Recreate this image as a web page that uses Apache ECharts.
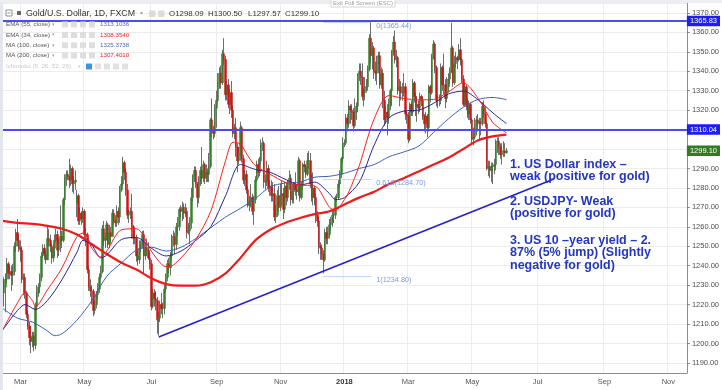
<!DOCTYPE html>
<html><head><meta charset="utf-8">
<script src="https://cdn.jsdelivr.net/npm/echarts@6/dist/echarts.min.js"></script>
<style>html,body{margin:0;padding:0;background:#fff}#c{width:722px;height:390px}</style>
</head><body><div id="c"></div>
<script>
// ---------- DATA ----------
const startDate = '2017-02-13';   // first trading day shown
const categoryCount = 461;        // weekdays on the axis (includes empty future)
const monthNames = ['Jan','Feb','Mar','Apr','May','Jun','Jul','Aug','Sep','Oct','Nov','Dec'];

// daily candles [open, close, low, high], one per weekday from startDate
const candles = [
// Feb 2017
[1234,1226,1224,1236],[1226,1229,1219,1233],[1229,1233,1216,1236],[1233,1241,1231,1244],[1241,1236,1233,1242],
[1236,1237,1233,1240],[1237,1235,1227,1240],[1235,1237,1230,1241],[1237,1250,1235,1252],[1250,1257,1247,1259],
[1257,1253,1250,1264],[1253,1249,1247,1256],
// Mar
[1249,1248,1242,1253],[1248,1233,1231,1250],[1233,1234,1225,1236],
[1234,1226,1223,1236],[1226,1215,1213,1227],[1215,1209,1207,1217],[1209,1203,1199,1211],[1203,1201,1195,1209],
[1201,1204,1198,1206],[1204,1199,1196,1206],[1199,1219,1197,1221],[1219,1226,1217,1230],[1226,1229,1224,1231],
[1229,1234,1226,1236],[1234,1245,1232,1247],[1245,1249,1244,1251],[1249,1246,1243,1251],[1246,1243,1241,1248],
[1243,1254,1243,1261],[1254,1253,1250,1259],[1253,1250,1247,1256],[1250,1244,1241,1251],[1244,1249,1242,1251],
// Apr
[1249,1253,1245,1256],[1253,1256,1252,1259],[1256,1248,1244,1258],[1248,1252,1245,1254],[1252,1255,1247,1271],
[1255,1253,1249,1258],[1253,1274,1252,1275],[1274,1285,1271,1287],[1285,1287,1281,1289],[1287,1286,1284,1289],
[1286,1284,1280,1295],[1284,1290,1281,1292],[1290,1282,1278,1291],[1282,1283,1277,1286],[1283,1284,1279,1289],
[1272,1276,1265,1279],[1276,1263,1261,1277],[1263,1267,1261,1270],[1267,1264,1261,1268],[1264,1268,1262,1270],
// May
[1268,1256,1254,1269],[1256,1256,1250,1259],[1256,1238,1236,1257],[1238,1229,1227,1240],[1229,1227,1224,1233],
[1227,1227,1220,1230],[1227,1217,1214,1228],[1217,1220,1215,1222],[1220,1225,1218,1227],[1225,1228,1223,1231],
[1228,1234,1226,1236],[1234,1237,1233,1240],[1237,1259,1236,1261],[1259,1253,1250,1263],[1253,1254,1249,1257],
[1254,1261,1253,1263],[1261,1251,1249,1262],[1251,1257,1249,1261],[1257,1255,1252,1260],[1255,1267,1255,1269],
[1267,1263,1261,1269],[1263,1262,1260,1266],[1262,1268,1260,1271],
// Jun
[1268,1265,1261,1270],[1265,1279,1262,1281],
[1279,1282,1278,1286],[1282,1293,1281,1296],[1293,1288,1284,1294],[1288,1279,1276,1290],[1279,1266,1264,1282],
[1266,1267,1262,1269],[1267,1268,1264,1270],[1268,1260,1254,1277],[1260,1254,1251,1261],[1254,1254,1251,1258],
[1254,1245,1242,1256],[1245,1243,1240,1248],[1243,1249,1241,1253],[1249,1251,1247,1253],[1251,1256,1249,1258],
[1256,1245,1236,1258],[1245,1249,1243,1252],[1249,1248,1245,1254],[1248,1244,1243,1252],[1244,1241,1238,1247],
// Jul
[1241,1219,1217,1243],[1219,1226,1218,1228],[1226,1223,1219,1228],[1223,1222,1217,1227],[1222,1212,1205,1224],
[1212,1213,1204,1216],[1213,1220,1211,1222],[1220,1218,1215,1226],[1218,1218,1213,1221],[1218,1228,1215,1230],
[1228,1234,1226,1236],[1234,1241,1232,1243],[1241,1239,1236,1244],[1239,1245,1235,1247],[1245,1255,1243,1256],
[1255,1255,1250,1258],[1255,1251,1246,1257],[1251,1260,1248,1262],[1260,1260,1255,1265],[1260,1269,1258,1270],
[1269,1268,1265,1271],
// Aug
[1268,1270,1263,1273],[1270,1267,1264,1272],[1267,1268,1265,1272],[1268,1257,1254,1270],
[1257,1258,1256,1262],[1258,1262,1251,1265],[1262,1275,1259,1280],[1275,1286,1273,1287],[1286,1289,1283,1291],
[1289,1282,1280,1291],[1282,1275,1270,1283],[1275,1283,1272,1286],[1283,1289,1281,1291],[1289,1285,1282,1301],
[1285,1292,1283,1294],[1292,1285,1282,1293],[1285,1288,1283,1292],[1288,1287,1283,1290],[1287,1291,1283,1298],
[1291,1315,1290,1316],[1315,1309,1306,1326],[1309,1308,1305,1312],[1308,1321,1306,1323],
// Sep
[1321,1325,1311,1330],
[1325,1334,1324,1339],[1334,1339,1331,1342],[1339,1334,1331,1343],[1334,1349,1333,1351],[1349,1346,1343,1357],
[1346,1328,1325,1348],[1328,1333,1325,1335],[1333,1323,1321,1336],[1323,1329,1318,1331],[1329,1320,1316,1335],
[1320,1308,1306,1322],[1308,1311,1305,1313],[1311,1301,1296,1316],[1301,1294,1288,1303],[1294,1297,1292,1301],
[1297,1311,1294,1314],[1311,1295,1293,1312],[1295,1284,1282,1297],[1284,1287,1281,1289],[1287,1279,1277,1289],
// Oct
[1279,1271,1270,1281],[1271,1273,1268,1276],[1273,1275,1270,1282],[1275,1268,1266,1277],[1268,1274,1261,1276],
[1274,1284,1272,1286],[1284,1292,1283,1294],[1292,1288,1285,1295],[1288,1294,1286,1296],[1294,1303,1292,1305],
[1303,1303,1299,1306],[1303,1283,1280,1304],[1283,1283,1279,1287],[1283,1290,1281,1294],[1290,1280,1278,1292],
[1280,1281,1276,1284],[1281,1276,1273,1284],[1276,1277,1273,1283],[1277,1265,1263,1282],[1265,1266,1262,1271],
[1266,1276,1265,1279],[1276,1270,1268,1281],
// Nov
[1270,1276,1268,1282],[1276,1277,1271,1284],[1277,1269,1264,1280],
[1269,1281,1267,1283],[1281,1275,1271,1283],[1275,1282,1273,1284],[1282,1285,1279,1289],[1285,1274,1271,1287],
[1274,1278,1272,1282],[1278,1282,1272,1283],[1282,1279,1276,1288],[1279,1278,1274,1282],[1278,1294,1276,1296],
[1294,1275,1273,1295],[1275,1281,1274,1283],[1281,1292,1279,1293],[1292,1291,1288,1294],[1291,1287,1285,1292],
[1287,1294,1286,1298],[1294,1294,1290,1299],[1294,1282,1280,1298],[1282,1275,1273,1287],
// Dec
[1275,1280,1271,1288],
[1280,1275,1271,1281],[1275,1266,1262,1277],[1266,1263,1260,1268],[1263,1250,1246,1265],[1250,1249,1243,1252],
[1249,1246,1243,1251],[1246,1243,1236,1248],[1243,1257,1242,1259],[1257,1254,1251,1260],[1254,1256,1251,1260],
[1256,1261,1254,1264],[1261,1262,1258,1265],[1262,1266,1260,1268],[1266,1266,1262,1269],[1266,1275,1264,1276],
[1275,1275,1273,1277],[1275,1282,1274,1284],[1282,1287,1280,1289],[1287,1295,1285,1296],[1295,1303,1293,1306],
// Jan 2018
[1303,1303,1301,1305],[1303,1316,1302,1318],[1316,1313,1309,1318],[1313,1322,1311,1325],[1322,1320,1313,1323],
[1320,1319,1315,1323],[1319,1312,1309,1321],[1312,1319,1311,1326],[1319,1322,1315,1324],[1322,1338,1319,1339],
[1338,1340,1335,1344],[1340,1337,1333,1344],[1337,1327,1325,1344],[1327,1329,1322,1331],[1329,1332,1325,1337],
[1332,1332,1329,1336],[1332,1341,1330,1343],[1341,1357,1340,1359],[1357,1348,1344,1366],[1348,1352,1341,1355],
[1352,1340,1336,1353],[1340,1339,1335,1345],[1339,1344,1333,1348],
// Feb
[1344,1348,1339,1350],[1348,1333,1331,1350],
[1333,1339,1331,1342],[1339,1325,1321,1341],[1325,1315,1312,1330],[1315,1319,1313,1322],[1319,1316,1307,1323],
[1316,1323,1313,1326],[1323,1330,1320,1331],[1330,1350,1322,1351],[1350,1355,1348,1358],[1355,1346,1344,1361],
[1346,1347,1342,1351],[1347,1330,1328,1348],[1330,1332,1322,1336],[1332,1329,1325,1335],[1329,1329,1325,1334],
[1329,1332,1327,1339],[1332,1318,1315,1334],[1318,1317,1313,1320],
// Mar
[1317,1305,1303,1319],[1305,1323,1304,1324],
[1323,1319,1317,1325],[1319,1334,1317,1336],[1334,1327,1324,1335],[1327,1322,1317,1329],[1322,1323,1314,1327],
[1323,1321,1318,1325],[1321,1327,1319,1329],[1327,1325,1322,1328],[1325,1317,1315,1327],[1317,1313,1309,1318],
[1313,1317,1308,1319],[1317,1311,1306,1318],[1311,1332,1309,1333],[1332,1329,1324,1333],[1329,1347,1328,1349],
[1347,1354,1346,1356],[1354,1342,1339,1355],[1342,1325,1322,1343],[1325,1325,1321,1328],[1325,1325,1322,1328],
// Apr
[1325,1342,1323,1344],[1342,1333,1330,1343],[1333,1333,1328,1349],[1333,1326,1321,1336],[1326,1332,1324,1337],
[1332,1336,1329,1339],[1336,1340,1333,1342],[1340,1352,1339,1365],[1352,1334,1332,1353],[1334,1344,1333,1348],
[1344,1347,1342,1350],[1347,1346,1341,1348],[1346,1351,1345,1354],[1351,1346,1343,1357],[1346,1336,1334,1347],
[1336,1323,1322,1338],[1323,1332,1322,1334],[1332,1322,1320,1333],[1322,1318,1316,1326],[1318,1323,1315,1325],
[1323,1315,1313,1324],
// May
[1315,1305,1302,1316],[1305,1306,1302,1311],[1306,1312,1305,1316],[1312,1315,1307,1317],
[1315,1314,1309,1318],[1314,1313,1305,1316],[1313,1313,1307,1316],[1313,1322,1312,1324],[1322,1318,1316,1325],
[1318,1313,1311,1322],[1313,1290,1289,1314],[1290,1291,1286,1294],[1291,1289,1285,1294],[1289,1291,1283,1293],
[1291,1291,1282,1293],[1291,1292,1287,1295],[1292,1304,1289,1305],[1304,1304,1298,1306],[1304,1301,1297,1306],
[1301,1297,1295,1303],[1297,1299,1292,1303],[1299,1299,1296,1304],[1299,1298,1296,1303],
// Jun 1
[1298.09,1299.10,1297.57,1300.50]
];

// moving averages at sample dates
const ema34 = [
['2017-02-13',1207],['2017-02-27',1221],['2017-03-06',1226],['2017-03-13',1222],['2017-03-15',1219],
['2017-03-27',1227.5],['2017-04-10',1239],['2017-04-24',1255],['2017-05-01',1257],['2017-05-08',1249],
['2017-05-16',1244.5],['2017-05-22',1247.5],['2017-06-05',1258.5],['2017-06-19',1259],['2017-07-03',1247.5],
['2017-07-13',1240],['2017-07-19',1239.5],['2017-07-31',1244],['2017-08-14',1253.5],['2017-08-28',1268],
['2017-09-11',1294],['2017-09-18',1303.5],['2017-09-25',1302.5],['2017-10-02',1296.5],['2017-10-09',1291.5],
['2017-10-23',1287],['2017-11-06',1283],['2017-11-20',1281.5],['2017-12-04',1281],['2017-12-18',1270],
['2017-12-22',1268.5],['2018-01-01',1274],['2018-01-04',1278],['2018-01-15',1291.5],['2018-01-29',1315.5],
['2018-02-12',1327.5],['2018-02-26',1326],['2018-03-12',1325.3],['2018-03-26',1325.5],['2018-04-09',1329.4],
['2018-04-23',1334],['2018-05-07',1326],['2018-05-21',1313.5],['2018-06-01',1308.35]
];
const ema55 = [
['2017-02-13',1207],['2017-02-27',1217],['2017-03-06',1220],['2017-03-15',1217.5],['2017-03-27',1222],
['2017-04-10',1233],['2017-04-24',1247],['2017-04-28',1253],['2017-05-08',1250.5],['2017-05-16',1244],
['2017-05-22',1245.5],['2017-06-05',1253.5],['2017-06-19',1254.5],['2017-07-03',1249],['2017-07-17',1245],
['2017-07-31',1247.5],['2017-08-14',1253],['2017-08-28',1260],['2017-09-11',1276],['2017-09-25',1292],
['2017-10-09',1289.5],['2017-10-23',1288],['2017-11-06',1284.5],['2017-11-20',1281.5],['2017-12-04',1283],
['2017-12-18',1277],['2017-12-22',1274],['2018-01-01',1275],['2018-01-15',1283],['2018-01-29',1302],
['2018-02-12',1316],['2018-02-26',1319.5],['2018-03-12',1320],['2018-03-26',1323.5],['2018-04-09',1328.3],
['2018-04-23',1329.8],['2018-05-07',1325.3],['2018-05-21',1318.5],['2018-06-01',1313.1]
];
const ma100 = [
['2017-02-13',1218],['2017-02-27',1213],['2017-03-13',1211],['2017-03-27',1206.5],['2017-04-03',1204],
['2017-04-10',1205],['2017-04-24',1212],['2017-05-08',1222],['2017-05-22',1234.5],['2017-06-05',1241.5],
['2017-06-19',1248],['2017-07-03',1249.5],['2017-07-17',1247.5],['2017-07-31',1249.5],['2017-08-14',1254],
['2017-08-28',1259.5],['2017-09-11',1265],['2017-09-25',1269.5],['2017-10-09',1274.5],['2017-10-23',1280.5],
['2017-11-06',1282.5],['2017-11-20',1283],['2017-12-04',1285.5],['2017-12-18',1286],['2018-01-01',1287.5],
['2018-01-15',1290],['2018-01-29',1292],['2018-02-12',1296],['2018-02-26',1298.5],['2018-03-12',1301.5],
['2018-03-26',1308.5],['2018-04-09',1315.5],['2018-04-23',1321.5],['2018-05-07',1325.5],['2018-05-21',1326.5],
['2018-06-01',1325.4]
];
const ma200 = [
['2017-02-13',1263],['2017-02-27',1262],['2017-03-13',1261.5],['2017-03-27',1260.5],['2017-04-10',1259],
['2017-04-24',1256],['2017-05-08',1251],['2017-05-22',1246],['2017-06-05',1241.5],['2017-06-19',1238],
['2017-07-03',1233.5],['2017-07-17',1230.5],['2017-07-31',1229.7],['2017-08-14',1229.7],['2017-08-28',1231.5],
['2017-09-11',1236],['2017-09-25',1244],['2017-10-09',1253],['2017-10-23',1258.5],['2017-11-06',1262],
['2017-11-20',1264.5],['2017-12-04',1266.5],['2017-12-18',1268],['2018-01-01',1271.5],['2018-01-15',1275],
['2018-01-29',1278],['2018-02-12',1282],['2018-02-26',1285],['2018-03-12',1288.5],['2018-03-26',1292],
['2018-04-09',1295.5],['2018-04-23',1300],['2018-05-07',1304.5],['2018-05-21',1306.5],['2018-06-01',1307.4]
];

const hLines = [1365.83, 1310.04];
const lastPrice = 1299.10;
const trendLine = [['2017-07-10',1203.3],['2018-07-17',1284.6]];
const fibStart = '2017-12-12', fibEnd = '2018-01-25';
const fibLevels = [['0',1365.44],['0.618',1284.70],['1',1234.80]];
const legendRows = [
  ['EMA (55, close)','1313.1036','#5a5ad2'],
  ['EMA (34, close)','1308.3540','#f21d1d'],
  ['MA (100, close)','1325.3738','#4a66c0'],
  ['MA (200, close)','1307.4010','#f21d1d']
];
const notes = [
  '1. US Dollar index –','weak (positive for gold)',
  '2. USDJPY- Weak','(positive for gold)',
  '3. US 10 –year yield – 2.','87% (5% jump) (Slightly','negative for gold)'
];

// ---------- BUILD ----------
function buildDates(start, n){
  const out=[]; const d=new Date(start+'T00:00:00Z');
  while(out.length<n){ const wd=d.getUTCDay(); if(wd!==0&&wd!==6) out.push(d.toISOString().slice(0,10)); d.setUTCDate(d.getUTCDate()+1); }
  return out;
}
const dates = buildDates(startDate, categoryCount);
const labelIdx = new Set();
for(let i=1;i<dates.length;i++){
  const m=+dates[i].slice(5,7), pm=+dates[i-1].slice(5,7);
  if(m!==pm && m%2===1) labelIdx.add(i);
}
const isLab = (i)=>labelIdx.has(i);
const bodies = candles.map(c=>[c[0],c[1],Math.min(c[0],c[1]),Math.max(c[0],c[1])]);

const FONT='"Liberation Sans", Arial, sans-serif';
const g = [];
g.push({type:'rect',z:100,shape:{x:0,y:0,width:3,height:390},style:{fill:'#e3e6ec'}});
g.push({type:'rect',z:100,shape:{x:0,y:0,width:722,height:3},style:{fill:'#eceef2'}});
g.push({type:'rect',z:100,shape:{x:331,y:-5,width:64,height:12},style:{fill:'#fff',stroke:'#d6d6d6',lineWidth:1}});
g.push({type:'text',z:101,x:363,y:3,style:{text:'Exit Full Screen (ESC)',fontSize:6,fill:'#9a9a9a',align:'center',verticalAlign:'middle',fontFamily:FONT}});
// header
g.push({type:'rect',z:100,shape:{x:6,y:10,width:6,height:6},style:{fill:'#fff',stroke:'#777',lineWidth:0.8}});
g.push({type:'rect',z:101,shape:{x:7.5,y:12.6,width:3,height:0.8},style:{fill:'#777'}});
g.push({type:'rect',z:100,shape:{x:17,y:11,width:4,height:4},style:{fill:'#666'}});
g.push({type:'text',z:100,x:26,y:13.5,style:{text:'Gold/U.S. Dollar, 1D, FXCM',fontSize:8.8,fill:'#333',verticalAlign:'middle',fontFamily:FONT}});
g.push({type:'text',z:100,x:140,y:13.5,style:{text:'▾',fontSize:6,fill:'#aaa',verticalAlign:'middle',fontFamily:FONT}});
[149,158].forEach(x=>g.push({type:'rect',z:100,shape:{x:x,y:10.5,width:6.5,height:6.5,r:1},style:{fill:'#dcdcdc'}}));
[['O1298.09',169],['H1300.50',208],['L1297.57',248],['C1299.10',285]].forEach(([t,x])=>
  g.push({type:'text',z:100,x:x,y:13.5,style:{text:t,fontSize:7.9,fill:'#333',verticalAlign:'middle',fontFamily:FONT}}));
// legend rows
const rowY=[24.5,35,45.2,55.5,66.5];
legendRows.forEach(([t,v,col],i)=>{
  const y=rowY[i];
  g.push({type:'text',z:99,x:6,y:y,style:{text:t,fontSize:6.2,fill:'#555',verticalAlign:'middle',fontFamily:FONT}});
  g.push({type:'text',z:99,x:52,y:y,style:{text:'▾',fontSize:5,fill:'#aaa',verticalAlign:'middle',fontFamily:FONT}});
  [62,71,80,89].forEach(x=>g.push({type:'rect',z:99,shape:{x:x,y:y-3,width:6,height:6,r:0.5},style:{fill:'#dedede'}}));
  g.push({type:'text',z:99,x:100,y:y,style:{text:v,fontSize:6.2,fill:col,verticalAlign:'middle',fontFamily:FONT}});
});
g.push({type:'text',z:99,x:6,y:rowY[4],style:{text:'Ichimoku (9, 26, 52, 26)',fontSize:6.2,fill:'#c8c8c8',verticalAlign:'middle',fontFamily:FONT}});
g.push({type:'text',z:99,x:78,y:rowY[4],style:{text:'▾',fontSize:5,fill:'#ccc',verticalAlign:'middle',fontFamily:FONT}});
g.push({type:'rect',z:99,shape:{x:86,y:rowY[4]-3,width:6,height:6,r:0.5},style:{fill:'#3d95e0'}});
[95,104,113,122].forEach(x=>g.push({type:'rect',z:99,shape:{x:x,y:rowY[4]-3,width:6,height:6,r:0.5},style:{fill:'#e2e2e2'}}));
// annotation
const noteY=[164.5,177,202,214,240.5,253,265.5];
notes.forEach((t,i)=>g.push({type:'text',z:110,x:510,y:noteY[i],style:{text:t,fontSize:12.5,fontWeight:'bold',fill:'#2336c4',verticalAlign:'middle',fontFamily:FONT}}));

const priceLabel = (bg)=>({show:true,position:'end',formatter:(p)=>p.value.toFixed(2),backgroundColor:bg,color:'#fff',fontSize:7.5,padding:[1.5,3,1,3],distance:0,fontFamily:FONT});
const markData = [];
hLines.forEach(v=>markData.push({yAxis:v,lineStyle:{color:'#4b4bef',width:2,type:'solid'},label:priceLabel('#1e1ef0')}));
markData.push({yAxis:lastPrice,lineStyle:{color:'rgba(0,0,0,0)',width:0},label:priceLabel('#2f7d1f')});
markData.push([{coord:trendLine[0]},{coord:trendLine[1],lineStyle:{color:'#2121d6',width:1.6,type:'solid'},label:{show:false}}]);
fibLevels.forEach(([lv,v])=>markData.push([{coord:[fibStart,v]},{coord:[fibEnd,v],
  lineStyle:{color:'#93aee8',width:1,type:'dotted'},
  label:{show:true,position:'end',distance:5,offset:[0,4],formatter:lv+'('+v.toFixed(2)+')',color:'#7a9be0',fontSize:7.3,fontFamily:FONT}}]));

const lineSeries=(name,data,color,width,z)=>({type:'line',name,data,smooth:0.3,symbol:'none',z,
  lineStyle:{color,width},itemStyle:{color},silent:true,animation:false});

const option = {
  animation:false,
  grid:{left:2,right:34,top:3,bottom:17,containLabel:false},
  xAxis:{type:'category',data:dates,boundaryGap:true,
    axisLine:{lineStyle:{color:'#8c8c8c'}},
    axisTick:{alignWithLabel:true,interval:isLab,length:3,lineStyle:{color:'#8c8c8c'}},
    axisLabel:{interval:isLab,fontSize:7.5,color:'#555',margin:5,fontFamily:FONT,
      formatter:(v)=>{const m=+v.slice(5,7);return m===1?'{y|'+v.slice(0,4)+'}':monthNames[m-1];},
      rich:{y:{fontWeight:'bold',fontSize:7.5,color:'#333',fontFamily:FONT}}},
    splitLine:{show:true,interval:isLab,lineStyle:{color:'#ececec'}}},
  yAxis:{type:'value',position:'right',min:1184.8,max:1375.1,splitNumber:19,
    axisLine:{show:true,lineStyle:{color:'#8c8c8c'}},
    axisTick:{show:true,length:3,lineStyle:{color:'#8c8c8c'}},
    axisLabel:{fontSize:7.5,color:'#4d4d4d',margin:5,fontFamily:FONT,formatter:(v)=>v.toFixed(2),showMinLabel:false,showMaxLabel:false},
    splitLine:{lineStyle:{color:'#ececec'}}},
  series:[
    {type:'candlestick',name:'wick',data:candles,barWidth:1,z:2,silent:true,
      itemStyle:{color:'#8a8a8a',color0:'#8a8a8a',borderColor:'#6e6e6e',borderColor0:'#6e6e6e',borderWidth:1}},
    {type:'candlestick',name:'body',data:bodies,barWidth:2,z:3,silent:true,
      itemStyle:{color:'#3a7f2e',color0:'#cf1414',borderColor:'#3a7f2e',borderColor0:'#cf1414',borderWidth:0.5}},
    lineSeries('MA200',ma200,'#ee1b1b',2.2,4),
    lineSeries('MA100',ma100,'#3d5fbc',1,4),
    lineSeries('EMA55',ema55,'#24249e',1,4),
    lineSeries('EMA34',ema34,'#ff1c1c',1,4),
    {type:'line',name:'drawings',data:[],z:6,silent:true,
      markLine:{silent:true,symbol:['none','none'],animation:false,data:markData}}
  ],
  graphic:g
};
const chart = echarts.init(document.getElementById('c'));
chart.setOption(option);
</script>
</body></html>
